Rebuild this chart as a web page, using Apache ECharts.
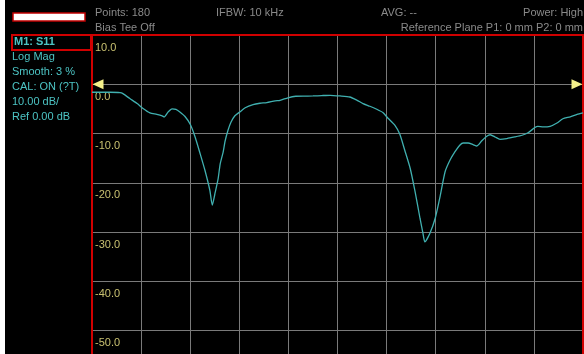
<!DOCTYPE html>
<html>
<head>
<meta charset="utf-8">
<script src="https://cdn.jsdelivr.net/npm/echarts@6/dist/echarts.min.js"></script>
<style>
html,body{margin:0;padding:0;background:#fff;}
#c{width:584px;height:354px;}
</style>
</head>
<body>
<div id="c"></div>
<script>
// Trace: x in graticule divisions (0..10), y in dB
const traceX = [0,0.37,0.57,0.63,0.77,0.92,1.04,1.18,1.32,1.43,1.47,1.55,1.63,1.71,1.79,1.89,2.00,2.10,2.20,2.30,2.40,2.45,2.51,2.57,2.61,2.67,2.71,2.77,2.83,2.91,3.01,3.12,3.28,3.42,3.56,3.73,3.83,3.99,4.15,4.34,4.50,4.68,4.85,5.05,5.25,5.40,5.52,5.66,5.80,5.93,6.03,6.17,6.27,6.37,6.48,6.58,6.68,6.74,6.78,6.88,6.99,7.09,7.19,7.29,7.39,7.49,7.56,7.66,7.76,7.84,7.94,8.04,8.11,8.21,8.31,8.45,8.61,8.76,8.88,9.02,9.08,9.19,9.33,9.47,9.59,9.74,9.88,10.0];
const traceDb = [-1.62,-1.62,-1.68,-1.89,-2.90,-3.91,-4.93,-5.82,-6.09,-6.39,-6.63,-5.62,-4.97,-5.07,-5.62,-6.49,-8.11,-10.69,-14.0,-17.44,-21.5,-24.5,-21.9,-19.07,-16.2,-13.8,-11.56,-9.33,-7.71,-6.39,-5.62,-4.77,-4.12,-3.85,-3.71,-3.35,-3.25,-2.74,-2.43,-2.39,-2.37,-2.29,-2.23,-2.37,-2.58,-3.25,-3.91,-4.46,-5.07,-5.78,-6.90,-8.32,-10.14,-13.39,-17.04,-21.8,-27.18,-30.2,-31.99,-30.28,-27.18,-22.72,-17.79,-15.42,-13.73,-12.37,-11.91,-11.91,-12.23,-12.52,-11.46,-10.55,-10.24,-10.69,-11.16,-11.01,-10.69,-10.34,-9.84,-8.78,-8.52,-8.66,-8.52,-7.85,-7.0,-6.59,-6.09,-5.78];
const refLevel = 0;
const yMax = 10, yMin = -60, yStep = 10;
const headerLeft = ['Points: 180', 'Bias Tee Off'];
const headerMid = ['IFBW: 10 kHz', 'AVG: --'];
const headerRight = ['Power: High', 'Reference Plane P1: 0 mm P2: 0 mm'];
const panelTitle = 'M1: S11';
const panelLines = ['Log Mag', 'Smooth: 3 %', 'CAL: ON (?T)', '10.00 dB/', 'Ref 0.00 dB'];

const FONT = '"Liberation Sans", Arial, sans-serif';
const chart = echarts.init(document.getElementById('c'), null, {renderer: 'canvas'});

const graphics = [
  {type:'rect', shape:{x:0,y:0,width:5,height:354}, style:{fill:'#fff'}, z:10},
  {type:'rect', shape:{x:13,y:13,width:72,height:8}, style:{fill:'#fff', stroke:'#c00000', lineWidth:1.5}},
  {type:'rect', shape:{x:12,y:35,width:79,height:15}, style:{fill:'#000', stroke:'#d00000', lineWidth:2}},
  {type:'text', x:14, y:42, style:{text:panelTitle, fill:'#4cc4c4', font:'bold 11px ' + FONT, verticalAlign:'middle'}},
  {type:'text', x:95, y:13, style:{text:headerLeft[0], fill:'#8a8a8a', font:'11px ' + FONT, verticalAlign:'middle'}},
  {type:'text', x:95, y:28, style:{text:headerLeft[1], fill:'#8a8a8a', font:'11px ' + FONT, verticalAlign:'middle'}},
  {type:'text', x:216, y:13, style:{text:headerMid[0], fill:'#8a8a8a', font:'11px ' + FONT, verticalAlign:'middle'}},
  {type:'text', x:381, y:13, style:{text:headerMid[1], fill:'#8a8a8a', font:'11px ' + FONT, verticalAlign:'middle'}},
  {type:'text', x:583, y:13, style:{text:headerRight[0], fill:'#8a8a8a', font:'11px ' + FONT, verticalAlign:'middle', align:'right'}},
  {type:'text', x:583, y:28, style:{text:headerRight[1], fill:'#8a8a8a', font:'11px ' + FONT, verticalAlign:'middle', align:'right'}}
];
panelLines.forEach((t, i) => {
  graphics.push({type:'text', x:12, y:57 + i * 15, style:{text:t, fill:'#4cc4c4', font:'11px ' + FONT, verticalAlign:'middle'}});
});

chart.setOption({
  animation: false,
  backgroundColor: '#000',
  grid: {left: 92, top: 35, right: 1, bottom: -26, containLabel: false, outerBoundsMode: 'none'},
  xAxis: {
    type: 'value', min: 0, max: 10, interval: 1, position: 'top',
    axisLine: {show: true, onZero: false, lineStyle: {color: '#d00000', width: 2}},
    axisTick: {show: false}, axisLabel: {show: false},
    splitLine: {show: true, lineStyle: {color: '#7a7a7a', width: 1}}
  },
  yAxis: [{
    type: 'value', min: yMin, max: yMax, interval: yStep,
    axisLine: {show: true, onZero: false, lineStyle: {color: '#d00000', width: 2}},
    axisTick: {show: false},
    axisLabel: {
      inside: true, margin: 3, color: '#c8c070', fontSize: 11, fontFamily: FONT,
      verticalAlign: 'top', padding: [7, 0, 0, 0],
      formatter: v => (v === yMin ? '' : v.toFixed(1))
    },
    splitLine: {show: true, lineStyle: {color: '#7a7a7a', width: 1}}
  }, {
    type: 'value', min: yMin, max: yMax, interval: yStep, position: 'right',
    axisLine: {show: true, onZero: false, lineStyle: {color: '#d00000', width: 2}},
    axisTick: {show: false}, axisLabel: {show: false}, splitLine: {show: false}
  }],
  series: [{
    type: 'line',
    data: traceX.map((x, i) => [x, traceDb[i]]),
    showSymbol: false, smooth: 0.2,
    lineStyle: {color: '#40b0b0', width: 1.3},
    markPoint: {
      silent: true, label: {show: false},
      data: [
        {coord: [0, refLevel], symbol: 'triangle', symbolSize: [10, 11], symbolRotate: 90, symbolOffset: [6, 0], itemStyle: {color: '#f4f08a'}},
        {coord: [10, refLevel], symbol: 'triangle', symbolSize: [10, 11], symbolRotate: -90, symbolOffset: [-6, 0], itemStyle: {color: '#f4f08a'}}
      ]
    }
  }],
  graphic: graphics
});
</script>
</body>
</html>
